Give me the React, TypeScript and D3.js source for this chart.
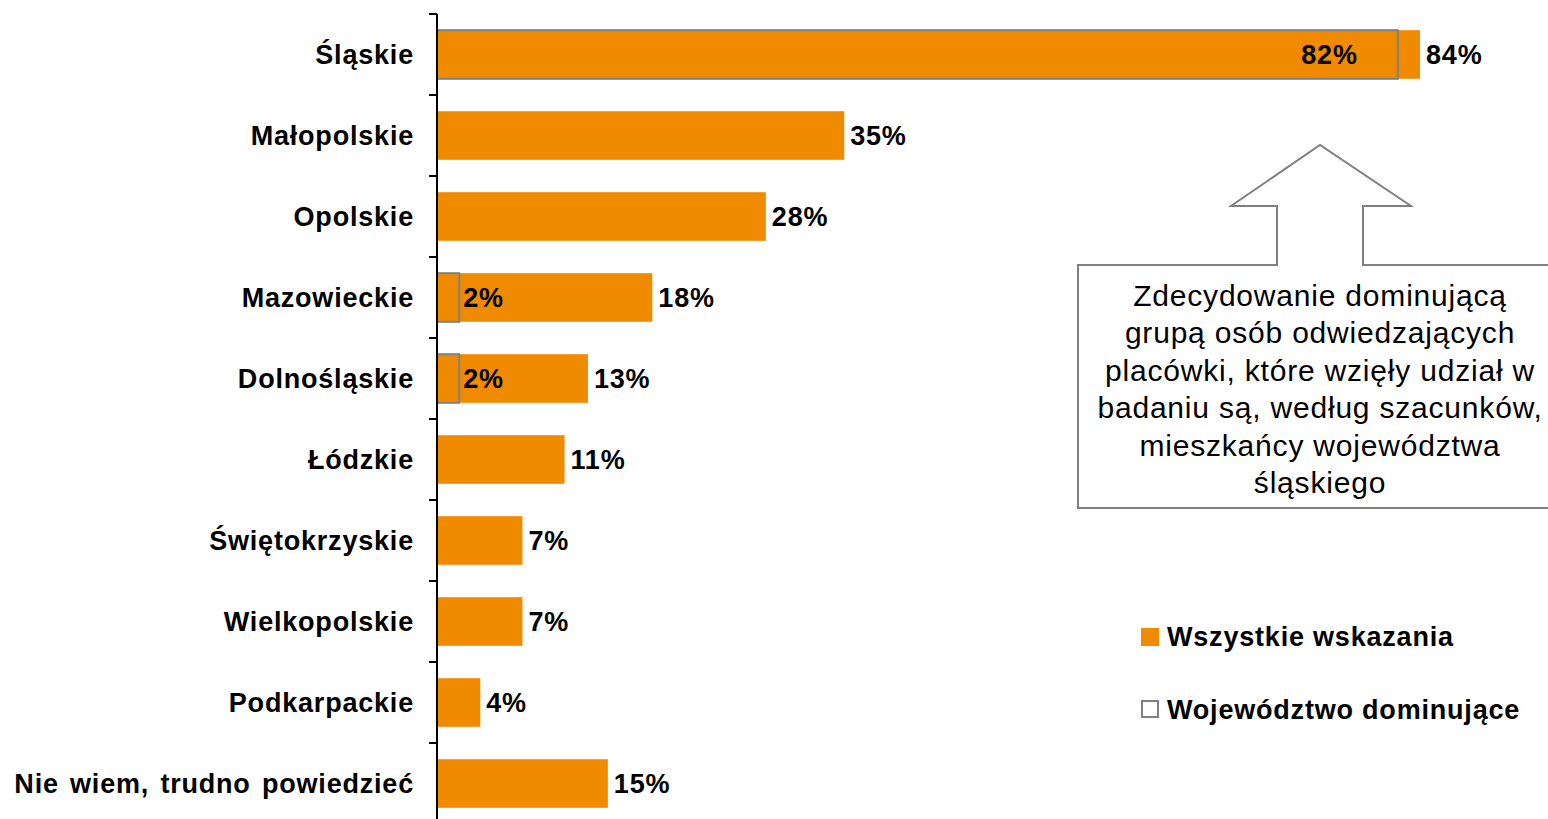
import React from "react";
import * as d3 from "d3";

const categories = [
  "Śląskie",
  "Małopolskie",
  "Opolskie",
  "Mazowieckie",
  "Dolnośląskie",
  "Łódzkie",
  "Świętokrzyskie",
  "Wielkopolskie",
  "Podkarpackie",
  "Nie wiem, trudno powiedzieć",
];
const allValues = [84, 34.8, 28.1, 18.4, 12.9, 10.9, 7.3, 7.3, 3.7, 14.6];
const allLabels = ["84%", "35%", "28%", "18%", "13%", "11%", "7%", "7%", "4%", "15%"];
const domValues: (number | null)[] = [82.1, null, null, 1.9, 1.9, null, null, null, null, null];
const domLabels: (string | null)[] = ["82%", null, null, "2%", "2%", null, null, null, null, null];
const legendItems = ["Wszystkie wskazania", "Województwo dominujące"];
const calloutLines = [
  "Zdecydowanie dominującą",
  "grupą osób odwiedzających",
  "placówki, które wzięły udział w",
  "badaniu są, według szacunków,",
  "mieszkańcy województwa",
  "śląskiego",
];

const W = 1548;
const H = 819;
const ORANGE = "#F08B00";
const GRAY = "#808080";
const FONT = "'Liberation Sans', Arial, sans-serif";
const FS = 27;
const LS = 0.8;

export default function App() {
  const x = d3.scaleLinear().domain([0, 84]).range([437, 1420]);
  const y = d3.scaleBand<string>().domain(categories).range([14, 824]).paddingInner(0.4).paddingOuter(0.2);
  const step = y.step();
  const tickYs = d3.range(categories.length + 1).map((i) => 14 + i * step);

  // callout arrow geometry
  const cx = 1320;
  const box = { l: 1078, t: 265, r: 1560, b: 508 };
  const arrowPath = d3.path();
  arrowPath.moveTo(box.l, box.t);
  arrowPath.lineTo(cx - 43, box.t);
  arrowPath.lineTo(cx - 43, 206);
  arrowPath.lineTo(cx - 89, 206);
  arrowPath.lineTo(cx, 145);
  arrowPath.lineTo(cx + 91, 206);
  arrowPath.lineTo(cx + 43, 206);
  arrowPath.lineTo(cx + 43, box.t);
  arrowPath.lineTo(box.r, box.t);
  arrowPath.lineTo(box.r, box.b);
  arrowPath.lineTo(box.l, box.b);
  arrowPath.closePath();

  return (
    <div style={{ position: "absolute", left: 0, top: 0 }}>
      <svg width={W} height={H} style={{ display: "block", background: "#fff" }}>
        {/* bars */}
        {categories.map((c, i) => (
          <rect key={"b" + c} x={x(0)} y={y(c)!} width={x(allValues[i]) - x(0)} height={y.bandwidth()} fill={ORANGE} />
        ))}
        {categories.map((c, i) =>
          domValues[i] != null ? (
            <rect
              key={"d" + c}
              x={x(0)}
              y={y(c)!}
              width={x(domValues[i] as number) - x(0)}
              height={y.bandwidth()}
              fill="none"
              stroke={GRAY}
              strokeWidth={2}
            />
          ) : null
        )}
        {/* axis */}
        <line x1={437} x2={437} y1={14} y2={H} stroke="#000" strokeWidth={2} />
        {tickYs.map((t, i) => (
          <line key={"t" + i} x1={429} x2={437} y1={t} y2={t} stroke="#000" strokeWidth={2} />
        ))}
        {/* category labels */}
        {categories.map((c) => (
          <text
            key={"c" + c}
            x={414}
            y={y(c)! + y.bandwidth() / 2}
            dy="0.35em"
            textAnchor="end"
            fontFamily={FONT}
            fontWeight="bold"
            fontSize={FS}
            letterSpacing={LS}
            wordSpacing={3}
            fill="#000"
          >
            {c}
          </text>
        ))}
        {/* value labels */}
        {categories.map((c, i) => (
          <text
            key={"v" + c}
            x={x(allValues[i]) + 6}
            y={y(c)! + y.bandwidth() / 2}
            dy="0.35em"
            fontFamily={FONT}
            fontWeight="bold"
            fontSize={FS}
            letterSpacing={LS}
            fill="#000"
          >
            {allLabels[i]}
          </text>
        ))}
        {categories.map((c, i) => {
          const v = domValues[i];
          if (v == null) return null;
          const big = v > 20;
          return (
            <text
              key={"dl" + c}
              x={big ? x(v) - 40 : x(v) + 4}
              y={y(c)! + y.bandwidth() / 2}
              dy="0.35em"
              textAnchor={big ? "end" : "start"}
              fontFamily={FONT}
              fontWeight="bold"
              fontSize={FS}
              letterSpacing={LS}
              fill="#000"
            >
              {domLabels[i]}
            </text>
          );
        })}
        {/* callout */}
        <path d={arrowPath.toString()} fill="#fff" stroke={GRAY} strokeWidth={2} />
        {calloutLines.map((l, i) => (
          <text
            key={"cl" + i}
            x={cx}
            y={306 + i * 37.4}
            textAnchor="middle"
            fontFamily={FONT}
            fontSize={30}
            letterSpacing={0.8}
            fill="#000"
          >
            {l}
          </text>
        ))}
        {/* legend */}
        <rect x={1141} y={628} width={18} height={18} fill={ORANGE} />
        <rect x={1142} y={701} width={16} height={16} fill="#fff" stroke={GRAY} strokeWidth={2} />
        {legendItems.map((l, i) => (
          <text
            key={"lg" + i}
            x={1167}
            y={637 + i * 73}
            dy="0.35em"
            fontFamily={FONT}
            fontWeight="bold"
            fontSize={FS}
            letterSpacing={LS}
            fill="#000"
          >
            {l}
          </text>
        ))}
      </svg>
    </div>
  );
}
